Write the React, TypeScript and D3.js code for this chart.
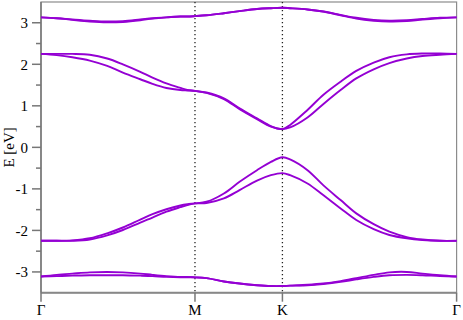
import React from 'react'
import * as d3 from 'd3'

// path coordinate along Γ-M-K-Γ
const kPoints = [0, 0.09, 0.18, 0.28, 0.38, 0.47, 0.57, 0.64, 0.72, 0.8, 0.84, 0.884,
  0.95, 1.05, 1.14, 1.24, 1.32, 1.386,
  1.43, 1.53, 1.62, 1.72, 1.81, 1.91, 2.0, 2.1, 2.19, 2.29, 2.386]

const symTicks = [0, 0.884, 1.386, 2.386]
const symLabels = ['Γ', 'M', 'K', 'Γ']
const yTicks = [-3, -2, -1, 0, 1, 2, 3]
const yMinorTicks = [-2.5, -1.5, -0.5, 0.5, 1.5, 2.5]

// energies (eV)
const band1 = [3.13, 3.11, 3.08, 3.05, 3.03, 3.04, 3.08, 3.11, 3.13, 3.15, 3.15, 3.16,
  3.18, 3.23, 3.28, 3.33, 3.35, 3.36,
  3.35, 3.32, 3.27, 3.19, 3.12, 3.07, 3.05, 3.06, 3.09, 3.12, 3.13]
const band2 = [3.13, 3.11, 3.07, 3.03, 3.01, 3.02, 3.06, 3.1, 3.13, 3.15, 3.15, 3.16,
  3.18, 3.23, 3.28, 3.33, 3.35, 3.36,
  3.35, 3.32, 3.27, 3.18, 3.1, 3.05, 3.03, 3.04, 3.08, 3.11, 3.13]
const band3 = [2.25, 2.25, 2.25, 2.23, 2.14, 2.0, 1.82, 1.68, 1.54, 1.43, 1.38, 1.36,
  1.32, 1.18, 0.94, 0.7, 0.51, 0.44,
  0.54, 0.9, 1.26, 1.58, 1.84, 2.04, 2.17, 2.24, 2.26, 2.26, 2.25]
const band4 = [2.25, 2.22, 2.17, 2.09, 1.96, 1.8, 1.64, 1.53, 1.43, 1.38, 1.37, 1.36,
  1.31, 1.16, 0.92, 0.68, 0.5, 0.44,
  0.48, 0.72, 1.04, 1.38, 1.66, 1.88, 2.03, 2.14, 2.2, 2.23, 2.25]
const band5 = [-2.25, -2.25, -2.24, -2.19, -2.07, -1.93, -1.74, -1.61, -1.49, -1.4, -1.37, -1.35,
  -1.31, -1.11, -0.83, -0.55, -0.35, -0.24,
  -0.29, -0.55, -0.91, -1.27, -1.59, -1.85, -2.03, -2.16, -2.22, -2.25, -2.25]
const band6 = [-2.25, -2.25, -2.25, -2.22, -2.12, -1.99, -1.81, -1.69, -1.55, -1.44, -1.39, -1.35,
  -1.34, -1.23, -1.03, -0.8, -0.67, -0.62,
  -0.67, -0.87, -1.15, -1.47, -1.75, -1.97, -2.11, -2.19, -2.23, -2.25, -2.25]
const band7 = [-3.11, -3.07, -3.04, -3.01, -3.0, -3.01, -3.04, -3.07, -3.1, -3.12, -3.12, -3.13,
  -3.15, -3.23, -3.28, -3.32, -3.34, -3.34,
  -3.33, -3.31, -3.28, -3.22, -3.15, -3.07, -3.01, -3.0, -3.04, -3.08, -3.11]
const band8 = [-3.11, -3.1, -3.09, -3.08, -3.08, -3.08, -3.09, -3.1, -3.12, -3.13, -3.13, -3.13,
  -3.15, -3.23, -3.28, -3.32, -3.34, -3.34,
  -3.33, -3.32, -3.29, -3.24, -3.18, -3.12, -3.08, -3.07, -3.08, -3.1, -3.11]

const bands = [band1, band2, band3, band4, band5, band6, band7, band8]

const W = 463
const H = 320
const left = 41
const right = 456.6
const top = 2
const bottom = 292.7
const font = '"Liberation Serif", "DejaVu Serif", serif'

const App = () => {
  const x = d3.scaleLinear().domain([0, 2.386]).range([left, right])
  const y = d3.scaleLinear().domain([-3.5, 3.5]).range([bottom, top])

  const line = d3.line<number>()
    .x((d, i) => x(kPoints[i]))
    .y(d => y(d))
    .curve(d3.curveCatmullRom.alpha(0.5))

  return (
    <svg width={W} height={H} style={{ position: 'absolute', left: 0, top: 0, background: 'white' }}>
      {/* frame */}
      <rect x={left} y={top} width={right - left} height={bottom - top}
        fill="none" stroke="#8c8c8c" strokeWidth={1.2} />
      <line x1={left} x2={right} y1={bottom} y2={bottom} stroke="#888" strokeWidth={2} />
      <line x1={left} x2={left} y1={top} y2={bottom} stroke="#777" strokeWidth={1.5} />

      {/* symmetry lines */}
      {symTicks.slice(1, 3).map((k, i) => (
        <line key={'s' + i} x1={x(k)} x2={x(k)} y1={top} y2={bottom}
          stroke="#222" strokeWidth={1.3} strokeDasharray="1.3,2.7" />
      ))}

      {/* y ticks */}
      {yTicks.map(t => (
        <g key={'y' + t}>
          <line x1={left - 9} x2={left} y1={y(t)} y2={y(t)} stroke="#777" strokeWidth={1.5} />
          <text x={left - 13} y={y(t)} dy="0.35em" textAnchor="end"
            fontFamily={font} fontSize={15} fill="#000">{t}</text>
        </g>
      ))}
      {yMinorTicks.map(t => (
        <line key={'m' + t} x1={left - 5} x2={left} y1={y(t)} y2={y(t)} stroke="#777" strokeWidth={1.5} />
      ))}

      {/* x ticks */}
      {symTicks.map((k, i) => (
        <g key={'x' + i}>
          <line x1={x(k)} x2={x(k)} y1={bottom} y2={bottom + 9} stroke="#777" strokeWidth={1.5} />
          <text x={x(k)} y={bottom + 22} textAnchor="middle"
            fontFamily={font} fontSize={15} fill="#000">{symLabels[i]}</text>
        </g>
      ))}

      <text transform={`translate(14,${y(0)}) rotate(-90)`} textAnchor="middle"
        fontFamily={font} fontSize={15} fill="#000">E [eV]</text>

      {/* bands */}
      {bands.map((b, i) => (
        <path key={'b' + i} d={line(b) || ''} fill="none" stroke="#9400d3" strokeWidth={1.9} />
      ))}
    </svg>
  )
}

export default App
